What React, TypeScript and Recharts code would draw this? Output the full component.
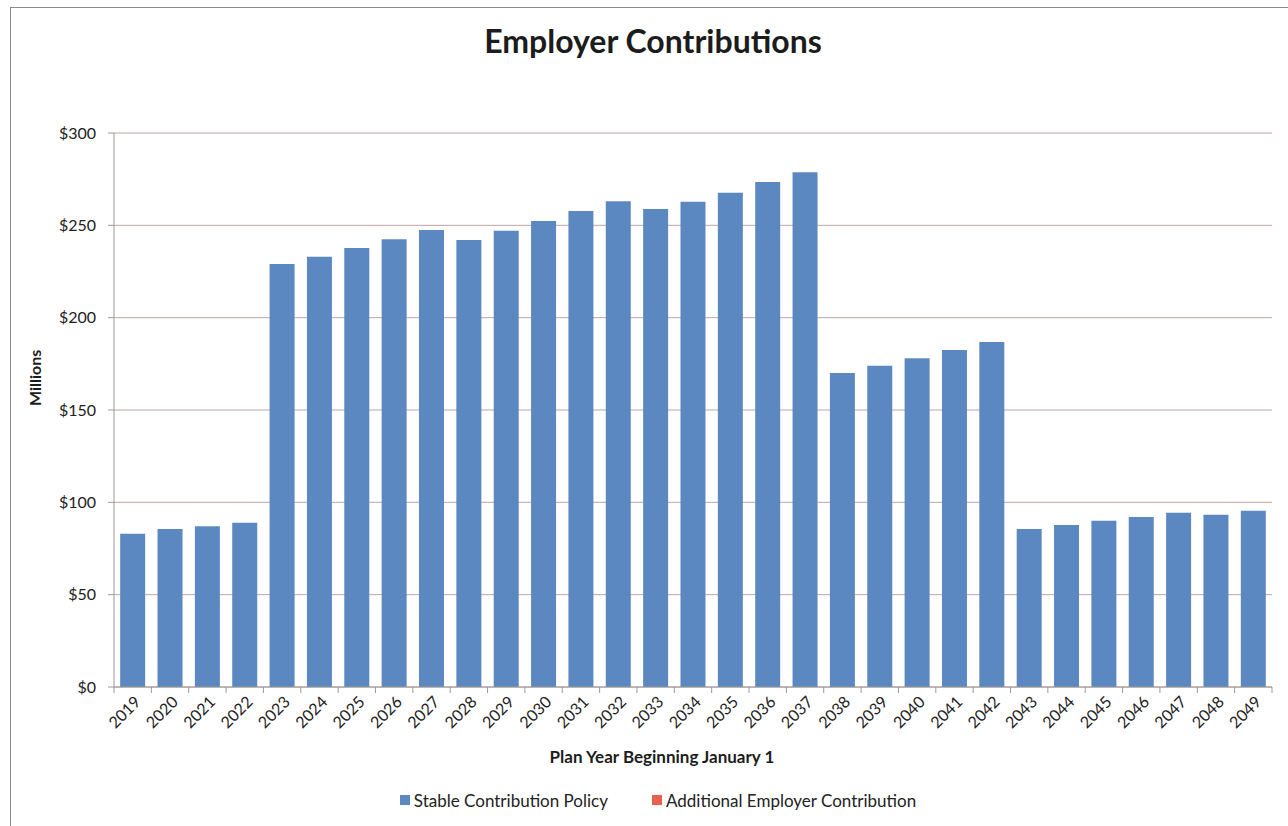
import React from "react";
import { Bar, BarChart, CartesianGrid, Legend, XAxis, YAxis } from "recharts";

const years = [
  "2019", "2020", "2021", "2022", "2023", "2024", "2025", "2026", "2027", "2028",
  "2029", "2030", "2031", "2032", "2033", "2034", "2035", "2036", "2037", "2038",
  "2039", "2040", "2041", "2042", "2043", "2044", "2045", "2046", "2047", "2048", "2049",
];

// $ millions
const stablePolicy = [
  83, 85.5, 87, 89, 229, 233, 237.7, 242.5, 247.5, 242, 247, 252.3, 257.8, 263, 258.8, 262.8,
  267.7, 273.4, 278.8, 170, 174, 178, 182.5, 186.8, 85.5, 87.7, 90, 92, 94.3, 93.3, 95.5,
];

const additionalContribution = [
  0, 0, 0, 0, 0, 0, 0, 0, 0, 0, 0, 0, 0, 0, 0, 0, 0, 0, 0, 0, 0, 0, 0, 0, 0, 0, 0, 0, 0, 0, 0,
];

const yTicks = [0, 50, 100, 150, 200, 250, 300];
const seriesOrder = ["stable", "additional"];

const data = years.map((year, i) => ({
  year,
  stable: stablePolicy[i],
  additional: additionalContribution[i],
}));

const WIDTH = 1288;
const HEIGHT = 826;
const MARGIN = { top: 133, right: 16, left: 20, bottom: 11 };
const Y_AXIS_W = 94;
const PLOT_W = WIDTH - MARGIN.left - MARGIN.right - Y_AXIS_W;
const BAND = PLOT_W / years.length;
const FONT = "Lato, 'Open Sans', sans-serif";
const BLUE = "#5b88c1";
const RED = "#e8604e";

function YearTick(props: any) {
  const { x, y, payload, index } = props;
  const half = BAND / 2;
  return (
    <g>
      <line x1={x - half} x2={x - half} y1={y} y2={y + 6} stroke="#9a9a9a" />
      {index === years.length - 1 && (
        <line x1={x + half} x2={x + half} y1={y} y2={y + 6} stroke="#9a9a9a" />
      )}
      <text
        transform={`translate(${x + 9},${y + 16}) rotate(-45)`}
        textAnchor="end"
        fontSize={16}
        fontFamily={FONT}
        fill="#222"
      >
        {payload.value}
      </text>
    </g>
  );
}

function LegendContent(props: any) {
  const items = [...(props.payload || [])].sort(
    (a: any, b: any) => seriesOrder.indexOf(a.dataKey) - seriesOrder.indexOf(b.dataKey)
  );
  return (
    <div
      style={{
        height: 30,
        display: "flex",
        justifyContent: "center",
        alignItems: "center",
        gap: 44,
        paddingLeft: 24,
        fontFamily: FONT,
        fontSize: 17,
        color: "#222",
      }}
    >
      {items.map((item: any) => (
        <div key={item.value} style={{ display: "flex", alignItems: "center" }}>
          <span style={{ width: 10, height: 10, background: item.color, marginRight: 4, display: "inline-block" }} />
          {item.value}
        </div>
      ))}
    </div>
  );
}

export default function App() {
  return (
    <div style={{ position: "absolute", left: 0, top: 0, width: WIDTH, height: HEIGHT, background: "#fff" }}>
      <div
        style={{
          position: "absolute",
          left: 10,
          top: 7,
          width: WIDTH,
          height: HEIGHT,
          borderLeft: "1px solid #8a8a8a",
          borderTop: "1px solid #8a8a8a",
        }}
      />
      <div
        style={{
          position: "absolute",
          top: 21,
          left: 0,
          width: 1306,
          textAlign: "center",
          fontFamily: FONT,
          fontWeight: 700,
          fontSize: 32,
          color: "#1c1c1c",
        }}
      >
        Employer Contributions
      </div>
      <BarChart width={WIDTH} height={HEIGHT} data={data} margin={MARGIN} barCategoryGap="16.5%">
        <CartesianGrid vertical={false} stroke="#c0a4a0" />
        <XAxis
          dataKey="year"
          height={98}
          interval={0}
          axisLine={{ stroke: "#9a9a9a" }}
          tickLine={false}
          tickSize={0}
          tickMargin={0}
          tick={<YearTick />}
          label={{
            value: "Plan Year Beginning January 1",
            position: "insideBottom",
            offset: 22,
            dx: -31,
            fontFamily: FONT,
            fontWeight: 700,
            fontSize: 17,
            fill: "#1c1c1c",
          }}
        />
        <YAxis
          width={Y_AXIS_W}
          domain={[0, 300]}
          ticks={yTicks}
          interval={0}
          tickFormatter={(v: number) => `$${v}`}
          axisLine={{ stroke: "#9a9a9a" }}
          tickLine={{ stroke: "#9a9a9a" }}
          tickMargin={12}
          tick={{ fontSize: 16, fontFamily: FONT, fill: "#222" }}
          label={{
            value: "Millions",
            angle: -90,
            position: "insideLeft",
            offset: 15,
            dy: -4,
            fontFamily: FONT,
            fontWeight: 700,
            fontSize: 16,
            fill: "#1c1c1c",
          }}
        />
        <Legend verticalAlign="bottom" height={30} content={<LegendContent />} />
        <Bar dataKey="stable" name="Stable Contribution Policy" stackId="a" fill={BLUE} isAnimationActive={false} />
        <Bar
          dataKey="additional"
          name="Additional Employer Contribution"
          stackId="a"
          fill={RED}
          isAnimationActive={false}
        />
      </BarChart>
    </div>
  );
}
